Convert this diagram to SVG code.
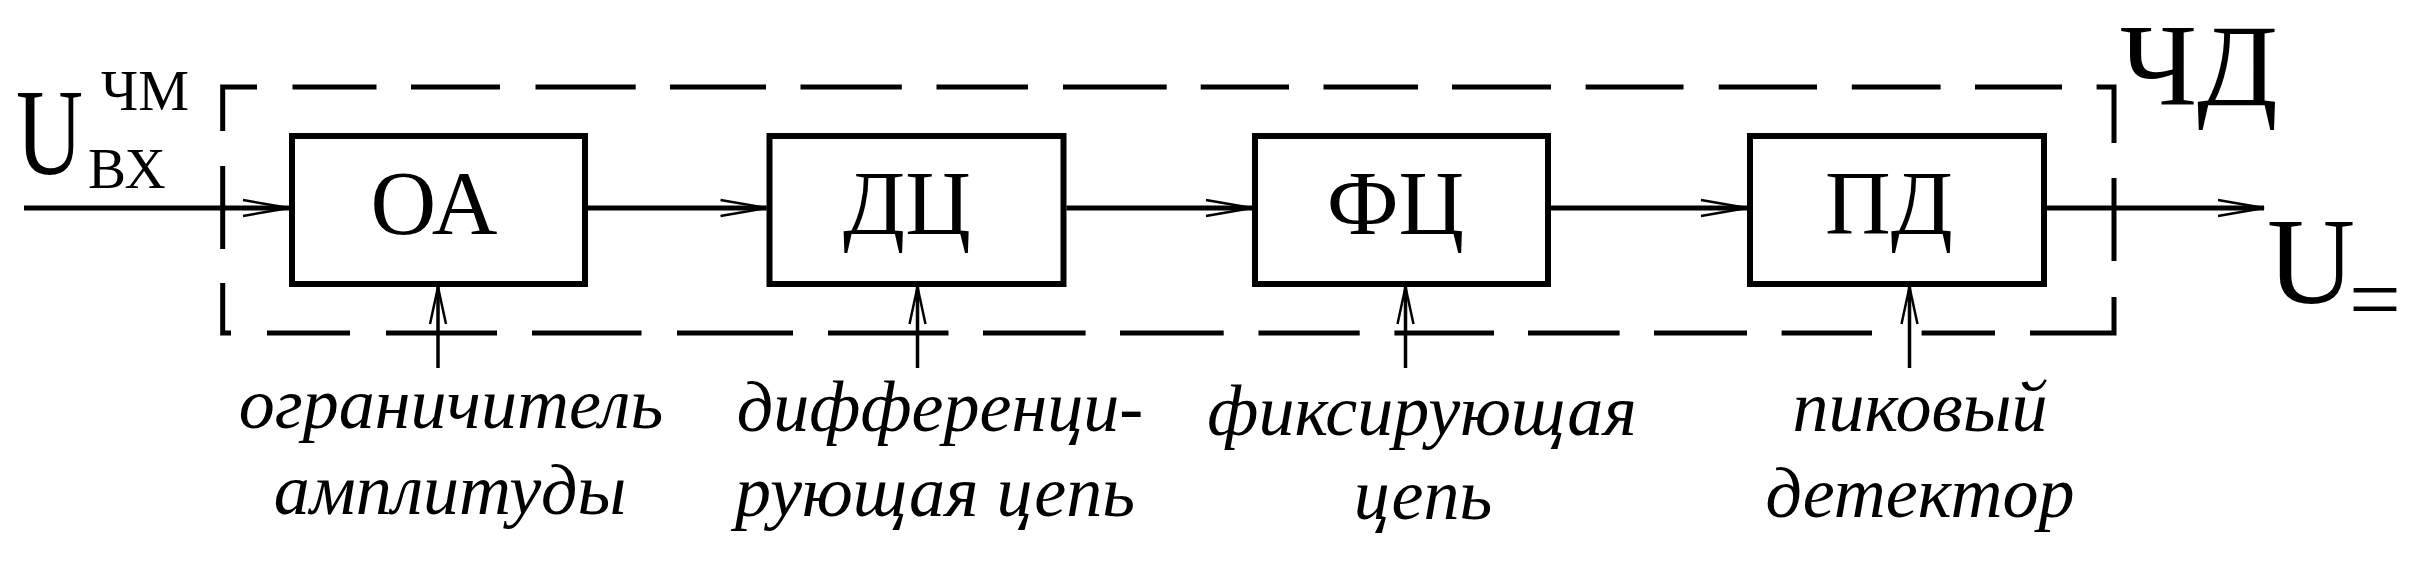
<svg xmlns="http://www.w3.org/2000/svg" width="2409" height="573" viewBox="0 0 2409 573">
<style>
.box{fill:none;stroke:#000;stroke-width:6}
text{font-family:'Liberation Serif','Tinos','Noto Serif','Nimbus Roman','Nimbus Roman No9 L','FreeSerif','DejaVu Serif','Noto Serif CJK SC','Noto Serif CJK JP','Times New Roman','Times',serif;fill:#000}
.lbl{font-size:91px;text-anchor:middle}
.cap{font-size:72px;font-style:italic;text-anchor:middle}
.wire{fill:none;stroke:#000;stroke-width:5}
.feed{fill:none;stroke:#000;stroke-width:3.5}
.dash{fill:none;stroke:#000;stroke-width:5;stroke-linejoin:miter;stroke-linecap:butt}
</style>
<defs>
<marker id="arr" markerUnits="userSpaceOnUse" viewBox="-50 -15 60 30" markerWidth="60" markerHeight="30" refX="0" refY="0" orient="auto" overflow="visible">
<path d="M -46 -8 L 0 0 L -46 8" fill="none" stroke="#000" stroke-width="2.5"/>
</marker>
<marker id="arrUp" markerUnits="userSpaceOnUse" viewBox="-50 -15 60 30" markerWidth="60" markerHeight="30" refX="0" refY="0" orient="auto" overflow="visible">
<path d="M -37 -8 L 0 0 L -37 8" fill="none" stroke="#000" stroke-width="2.5"/>
</marker>
</defs>

<g id="frame-ChD">
<path class="dash" d="M257 87 H222.7 V131 M222.7 166 V249 M222.7 283 V333 H231 M2096.6 87 H2114 V143 M2114 178 V261 M2114 297 V333 H2030"/>
<path class="dash" d="M292.5 87 H376.5 M411 87 H500 M535.5 87 H635.7 M670 87 H766 M800.5 87 H901.8 M936.5 87 H1028 M1063 87 H1166.7 M1200.7 87 H1289 M1323.5 87 H1418 M1452 87 H1551 M1585.6 87 H1683.5 M1718.7 87 H1817 M1851.8 87 H1940.6 M1975 87 H2062"/>
<path class="dash" d="M267 333 H350 M386 333 H497 M532 333 H641.5 M677 333 H793 M828 333 H948.5 M983 333 H1085.6 M1120 333 H1223.7 M1258.5 333 H1359.7 M1394.4 333 H1494 M1528 333 H1619.6 M1654 333 H1747 M1781.6 333 H1872 M1921.6 333 H1995"/>
<text x="2120" y="105" font-size="116" textLength="158" lengthAdjust="spacingAndGlyphs">ЧД</text>
</g>

<g id="input-label">
<text x="16" y="174" font-size="122" textLength="67" lengthAdjust="spacingAndGlyphs">U</text>
<text x="101" y="110" font-size="57" textLength="88" lengthAdjust="spacingAndGlyphs">ЧМ</text>
<text x="88" y="188" font-size="57">ВХ</text>
</g>

<g id="output-label">
<text x="2267" y="303" font-size="122">U</text>
<text x="2349" y="330" font-size="92">=</text>
</g>

<g id="node-OA">
<rect class="box" x="292" y="136" width="293" height="148"/>
<text class="lbl" x="434" y="234">ОА</text>
<text class="cap" x="451" y="428">ограничитель</text>
<text class="cap" x="450" y="514">амплитуды</text>
</g>

<g id="node-DC">
<rect class="box" x="769.5" y="136" width="294" height="148"/>
<text class="lbl" x="907" y="234">ДЦ</text>
<text class="cap" x="940" y="431">дифференци-</text>
<text class="cap" x="935" y="516">рующая цепь</text>
</g>

<g id="node-FC">
<rect class="box" x="1255" y="136" width="293" height="148"/>
<text class="lbl" x="1395.5" y="234">ФЦ</text>
<text class="cap" x="1422" y="435">фиксирующая</text>
<text class="cap" x="1423" y="519">цепь</text>
</g>

<g id="node-PD">
<rect class="box" x="1750" y="136" width="294" height="148"/>
<text class="lbl" x="1889" y="234">ПД</text>
<text class="cap" x="1920" y="431">пиковый</text>
<text class="cap" x="1920" y="517">детектор</text>
</g>

<g id="connectors">
<line class="wire" x1="24" y1="208" x2="289" y2="208" marker-end="url(#arr)"/>
<line class="wire" x1="588" y1="208" x2="766.5" y2="208" marker-end="url(#arr)"/>
<line class="wire" x1="1066.5" y1="208" x2="1252" y2="208" marker-end="url(#arr)"/>
<line class="wire" x1="1551" y1="208" x2="1747" y2="208" marker-end="url(#arr)"/>
<line class="wire" x1="2047" y1="208" x2="2264" y2="208" marker-end="url(#arr)"/>
<line class="feed" x1="438" y1="368" x2="438" y2="287" marker-end="url(#arrUp)"/>
<line class="feed" x1="917.5" y1="368" x2="917.5" y2="287" marker-end="url(#arrUp)"/>
<line class="feed" x1="1405.5" y1="368" x2="1405.5" y2="287" marker-end="url(#arrUp)"/>
<line class="feed" x1="1909.5" y1="368" x2="1909.5" y2="287" marker-end="url(#arrUp)"/>
</g>
</svg>
